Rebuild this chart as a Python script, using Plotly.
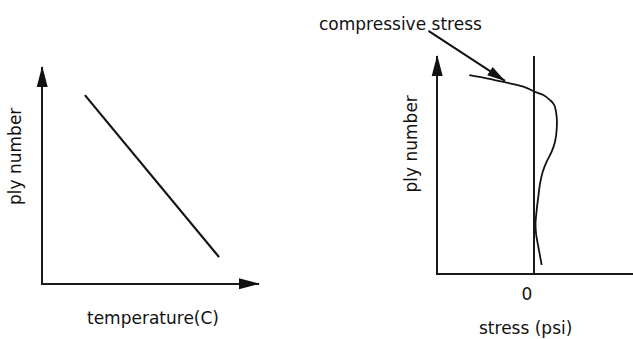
import math
import plotly.graph_objects as go

W, H = 633, 339

# ---- data (arbitrary schematic units) ----
temp_vals = [1.94, 8.15]          # temperature (C)
temp_ply = [8.70, 1.20]           # ply number

stress_vals = [-6.74, -4.93, -2.84, -1.11, 0.10, 0.97, 1.67, 2.11, 2.36, 2.36,
               2.19, 1.84, 1.32, 0.91, 0.63, 0.45, 0.28, 0.16, 0.21, 0.45, 0.80]
stress_ply = [9.12, 8.97, 8.77, 8.59, 8.35, 8.20, 7.97, 7.74, 7.20, 6.59,
              6.05, 5.59, 5.13, 4.67, 4.13, 3.52, 2.90, 2.29, 1.83, 1.21, 0.37]

zero_tick = [0]
zero_text = ["0"]

# annotation arrow (data coords on right panel)
arrow_tip = (-3.02, 8.85)
arrow_tail = (-11.15, 11.2)

# ---- styles ----
FONT = "DejaVu Sans"
FS = 17
INK = "#111111"
AX_LW = 1.6
LINE_C = "#141414"
HALF = AX_LW / 2

fig = go.Figure()

fig.add_trace(go.Scatter(x=temp_vals, y=temp_ply, mode="lines",
                         line=dict(color=LINE_C, width=2.2),
                         xaxis="x", yaxis="y", hoverinfo="skip"))
fig.add_trace(go.Scatter(x=stress_vals, y=stress_ply, mode="lines",
                         line=dict(color=LINE_C, width=1.8, shape="spline", smoothing=1.0),
                         xaxis="x2", yaxis="y2", hoverinfo="skip"))

common = dict(showgrid=False, ticks="", showline=True, linecolor="#1a1a1a",
              linewidth=AX_LW, fixedrange=True)

fig.update_layout(
    width=W, height=H,
    margin=dict(l=0, r=0, t=0, b=0),
    paper_bgcolor="white", plot_bgcolor="white",
    showlegend=False,
    font=dict(family=FONT, size=FS, color=INK),
    xaxis=dict(domain=[43 / W, 259 / W], range=[0, 10], anchor="y",
               showticklabels=False, zeroline=False, **common),
    yaxis=dict(domain=[1 - 283 / H, 1 - 67 / H], range=[0, 10], anchor="x",
               showticklabels=False, zeroline=False, **common),
    xaxis2=dict(domain=[438 / W, 1.0], range=[-10, 10.3125], anchor="y2",
                tickvals=zero_tick, ticktext=zero_text, showticklabels=True,
                tickfont=dict(family=FONT, size=FS, color=INK),
                ticklabelshift=-7, ticklabelstandoff=5,
                zeroline=True, zerolinecolor="#1a1a1a", zerolinewidth=1.5, **common),
    yaxis2=dict(domain=[1 - 273 / H, 1 - 56 / H], range=[0, 10], anchor="x2",
                showticklabels=False, zeroline=False, **common),
)

# arrowheads on axes (pixel-sized paths anchored at axis ends)
def up_head(xref, yref):
    return dict(type="path", xref=xref, yref=yref, xsizemode="pixel", ysizemode="pixel",
                xanchor=0, yanchor=1,
                path=f"M{-HALF},1 L{-HALF-5.5},-20 L{-HALF+5.5},-20 Z",
                fillcolor="#111111", line=dict(width=0), layer="above")

def right_head(xref, yref):
    return dict(type="path", xref=xref, yref=yref, xsizemode="pixel", ysizemode="pixel",
                xanchor=1, yanchor=0,
                path=f"M1,{-HALF} L-20,{-HALF+5.5} L-20,{-HALF-5.5} Z",
                fillcolor="#111111", line=dict(width=0), layer="above")

fig.add_shape(**up_head("x domain", "y domain"))
fig.add_shape(**right_head("x domain", "y domain"))
fig.add_shape(**up_head("x2 domain", "y2 domain"))

# arrowhead for the "compressive stress" pointer
ang = math.atan2(-51, 78)
dx, dy = math.cos(ang), math.sin(ang)
px, py = -dy, dx
L, Wh = 18, 5
bx, by = -L * dx, -L * dy
c1 = (bx + Wh * px, by + Wh * py)
c2 = (bx - Wh * px, by - Wh * py)
fig.add_shape(type="path", xref="x2", yref="y2", xsizemode="pixel", ysizemode="pixel",
              xanchor=arrow_tip[0], yanchor=arrow_tip[1],
              path=f"M0,0 L{c1[0]:.2f},{c1[1]:.2f} L{c2[0]:.2f},{c2[1]:.2f} Z",
              fillcolor="#111111", line=dict(width=0), layer="above")

fig.add_annotation(x=arrow_tip[0], y=arrow_tip[1], xref="x2", yref="y2",
                   ax=arrow_tail[0], ay=arrow_tail[1], axref="x2", ayref="y2",
                   text="", showarrow=True, arrowhead=0, arrowwidth=2, arrowcolor="#111111",
                   standoff=0, startstandoff=0)

def label(text, xpx, ypx, angle=0, yanchor="middle"):
    fig.add_annotation(x=xpx / W, y=1 - ypx / H, xref="paper", yref="paper",
                       text=text, showarrow=False, textangle=angle,
                       xanchor="center", yanchor=yanchor, borderpad=0,
                       font=dict(family=FONT, size=FS, color=INK))

label("ply number", 15, 157, angle=-90)
label("temperature(C)", 153, 318)
label("ply number", 410, 144.5, angle=-90)
label("compressive stress", 401, 24)
label("stress (psi)", 525, 339, yanchor="bottom")

fig.write_html("out.html")
